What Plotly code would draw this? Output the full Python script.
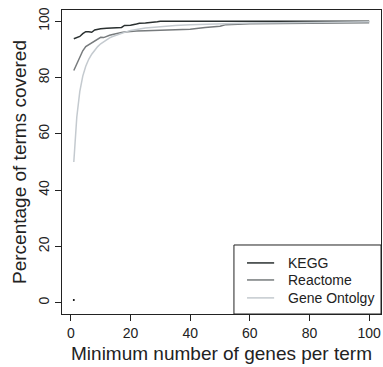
import plotly.graph_objects as go

kegg_x = [1, 2, 3, 4, 5, 6, 7, 8, 9, 10, 12, 13, 15, 17, 18, 20, 22, 23, 25, 27, 28, 29, 30, 35, 40, 50, 60, 70, 80, 90, 100]
kegg_y = [93.8, 94.2, 94.6, 95.6, 96.3, 96.3, 96.1, 96.9, 97.2, 97.3, 97.5, 97.6, 97.6, 97.8, 98.5, 98.6, 99.0, 99.3, 99.4, 99.5, 99.6, 99.8, 100, 100, 100, 100, 100, 100, 100, 100, 100]

reac_x = [1, 2, 3, 4, 5, 6, 7, 8, 9, 10, 11, 12, 13, 14, 15, 16, 17, 18, 19, 20, 22, 25, 28, 30, 35, 40, 45, 50, 52, 55, 60, 70, 80, 90, 100]
reac_y = [82.5, 85.0, 87.5, 89.5, 91.0, 91.7, 92.3, 93.0, 93.5, 94.3, 94.2, 94.7, 95.0, 95.3, 95.6, 95.9, 96.0, 96.2, 96.3, 96.4, 96.5, 96.6, 96.7, 96.8, 96.9, 97.2, 97.8, 98.2, 98.8, 99.0, 99.1, 99.2, 99.3, 99.4, 99.5]

go_x = [1, 2, 3, 4, 5, 6, 7, 8, 9, 10, 11, 12, 13, 14, 15, 16, 17, 18, 19, 20, 22, 25, 28, 30, 35, 40, 45, 50, 60, 70, 80, 90, 100]
go_y = [50.0, 66.0, 75.0, 80.5, 84.0, 86.5, 88.3, 89.8, 91.0, 92.0, 92.8, 93.5, 94.1, 94.6, 95.0, 95.4, 95.8, 96.1, 96.4, 96.7, 97.1, 97.6, 97.9, 98.1, 98.5, 98.8, 99.0, 99.2, 99.4, 99.5, 99.6, 99.7, 99.8]

dot_x = [1]
dot_y = [1]

series_names = ["KEGG", "Reactome", "Gene Ontolgy"]
series_colors = ["#2a3030", "#777b7d", "#c4cacf"]

x_ticks = [0, 20, 40, 60, 80, 100]
y_ticks = [0, 20, 40, 60, 80, 100]

FONT = "Liberation Sans, Arial, Helvetica, sans-serif"

fig = go.Figure()
for xs, ys, name, col in zip([kegg_x, reac_x, go_x], [kegg_y, reac_y, go_y], series_names, series_colors):
    fig.add_trace(go.Scatter(x=xs, y=ys, mode="lines", name=name, showlegend=False,
                             line=dict(color=col, width=1.5)))
fig.add_trace(go.Scatter(x=dot_x, y=dot_y, mode="markers", showlegend=False,
                         marker=dict(color="black", size=2)))

# manual legend (R-style box at bottom right)
fig.add_shape(type="rect", xref="paper", yref="paper", x0=0.539, x1=1.0, y0=0.0, y1=0.227,
              line=dict(color="#222", width=1), fillcolor="white", layer="above")
entry_y = [0.168, 0.112, 0.053]
for name, col, yy in zip(series_names, series_colors, entry_y):
    fig.add_shape(type="line", xref="paper", yref="paper", x0=0.580, x1=0.665, y0=yy, y1=yy,
                  line=dict(color=col, width=1.5), layer="above")
    fig.add_annotation(xref="paper", yref="paper", x=0.702, y=yy, text=name, showarrow=False,
                       xanchor="left", yanchor="middle", font=dict(size=14, color="#222"))

fig.update_layout(
    width=383, height=367,
    margin=dict(l=62, r=2, t=10, b=53),
    paper_bgcolor="white", plot_bgcolor="white",
    font=dict(family=FONT, color="#222", size=14),
    showlegend=False,
    xaxis=dict(range=[-2.96, 103.96], tickvals=x_ticks, ticks="outside", ticklen=6,
               tickcolor="#222", showline=True, linecolor="#222", linewidth=1, mirror=True,
               showgrid=False, zeroline=False, tickfont=dict(size=14, color="#222"),
               title=dict(text="Minimum number of genes per term", font=dict(size=19, color="#222"), standoff=6)),
    yaxis=dict(range=[-4, 104], tickvals=y_ticks, ticks="outside", ticklen=6,
               tickcolor="#222", showline=True, linecolor="#222", linewidth=1, mirror=True,
               showgrid=False, zeroline=False, tickangle=-90, tickfont=dict(size=14, color="#222"),
               title=dict(text="Percentage of terms covered", font=dict(size=19, color="#222"), standoff=4)),
)

fig.write_html("out.html")
